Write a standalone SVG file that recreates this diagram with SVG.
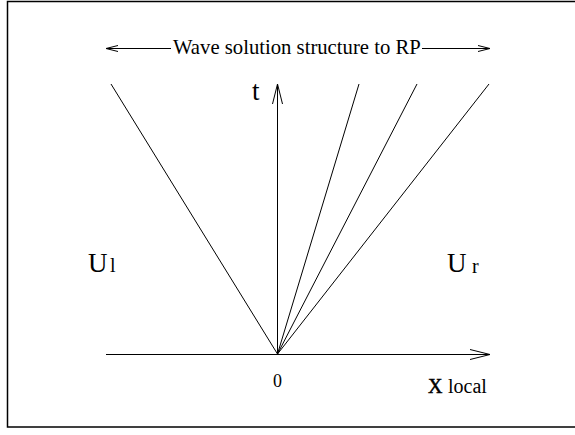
<svg xmlns="http://www.w3.org/2000/svg" width="575" height="435" viewBox="0 0 575 435">
<style>
.ln{stroke:#000;stroke-width:1;fill:none}
.ah{stroke:#000;stroke-width:1;fill:none}
.tx{font-family:'Liberation Serif','Times New Roman',serif;fill:#000}
</style>
<rect x="0" y="0" width="575" height="435" fill="#fff"/>
<rect x="7.5" y="1.5" width="580" height="425.5" fill="none" stroke="#000" stroke-width="1.5"/>
<g id="connectors">
<line class="ln" x1="106" y1="354.5" x2="490" y2="354.5"/>
<polyline class="ah" points="470,349.5 490,354.5 470,359.5"/>
<line class="ln" x1="277.5" y1="354" x2="277.5" y2="84"/>
<polyline class="ah" points="272.5,104 277.5,84 282.5,104"/>
<line class="ln" x1="111" y1="84" x2="277.5" y2="354"/>
<line class="ln" x1="277.5" y1="354" x2="359" y2="84"/>
<line class="ln" x1="277.5" y1="354" x2="417" y2="84"/>
<line class="ln" x1="277.5" y1="354" x2="489" y2="84"/>
<line class="ln" x1="106" y1="48.5" x2="171" y2="48.5"/>
<polyline class="ah" points="118,45.5 106,48.5 118,51.5"/>
<line class="ln" x1="422" y1="48.5" x2="490" y2="48.5"/>
<polyline class="ah" points="478,45.5 490,48.5 478,51.5"/>
</g>
<g id="title"><text class="tx" x="173" y="54" font-size="20.7">Wave solution structure to RP</text></g>
<g id="t-label"><text class="tx" x="252" y="100" font-size="27">t</text></g>
<g id="Ul"><text class="tx" x="88" y="272" font-size="27">U</text><text class="tx" x="110" y="272" font-size="20">l</text></g>
<g id="Ur"><text class="tx" x="447" y="272" font-size="27">U</text><text class="tx" x="472" y="273" font-size="20">r</text></g>
<g id="origin"><text class="tx" x="273" y="387" font-size="18">0</text></g>
<g id="x-label"><text class="tx" x="428" y="393" font-size="20" stroke="#000" stroke-width="0.5">X</text><text class="tx" x="448" y="393" font-size="20">local</text></g>
</svg>
